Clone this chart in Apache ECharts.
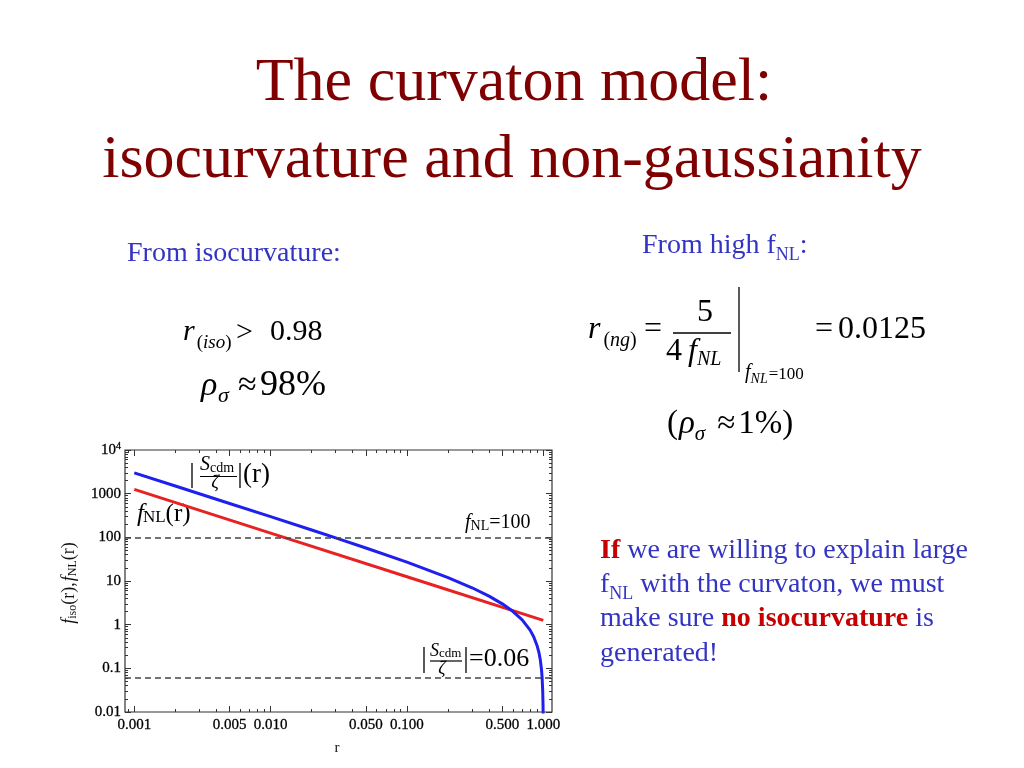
<!DOCTYPE html>
<html><head><meta charset="utf-8">
<script src="https://cdn.jsdelivr.net/npm/echarts@6/dist/echarts.min.js"></script>
<style>html,body{margin:0;padding:0;background:#fff}#c{width:1024px;height:768px}</style>
</head><body><div id="c"></div><script>
// ---------- data ----------
const rIso = [0.001, 0.002, 0.003, 0.005, 0.01, 0.02, 0.03, 0.05, 0.1, 0.2, 0.3, 0.4, 0.5, 0.6, 0.7, 0.8, 0.85, 0.9, 0.93, 0.95, 0.97, 0.98, 0.99, 0.995, 0.997];
const sIso = [2997, 1497, 997, 597, 297, 147, 97, 57, 27, 12, 7, 4.5, 3, 2, 1.29, 0.75, 0.53, 0.33, 0.226, 0.158, 0.093, 0.061, 0.030, 0.015, 0.009];
const rNL = [0.001, 0.01, 0.1, 1.0];
const fNL = [1250, 125, 12.5, 1.25];
const yDashed = [100, 0.06];
const xTickLabels = [0.001, 0.005, 0.01, 0.05, 0.1, 0.5, 1];
const yTickLabels = [0.01, 0.1, 1, 10, 100, 1000, 10000];
const xRange = [0.000855, 1.158];
const yRange = [0.01, 10000];

// ---------- helpers ----------
const SERIF = '"Liberation Serif","Times New Roman",serif';
const BLUE = '#3434C4', RED = '#C40000', TITLE = '#7F0000';
const L = Math.log10;
const mctx = document.createElement('canvas').getContext('2d');
function F(size, it, b) { return (it ? 'italic ' : '') + (b ? 'bold ' : '') + size + 'px ' + SERIF; }
function meas(t, font) { mctx.font = font; return mctx.measureText(t).width; }
function run(x, base, segs) {
  const out = []; let cx = x;
  for (const s of segs) {
    if (s.ax !== undefined) cx = s.ax;
    cx += (s.dx || 0);
    const font = F(s.size, s.it, s.b);
    out.push({ type: 'text', x: cx, y: base + (s.dy || 0) - 0.34 * s.size, silent: true,
      style: { text: s.t, font: font, fill: s.c || '#000', align: 'left', verticalAlign: 'middle' } });
    cx += meas(s.t, font);
  }
  out.w = cx - x;
  return out;
}
function hline(x1, x2, y, w, c) {
  return { type: 'line', silent: true, shape: { x1: x1, y1: y, x2: x2, y2: y }, style: { stroke: c || '#000', lineWidth: w || 1 } };
}
function vline(x, y1, y2, w, c) {
  return { type: 'line', silent: true, shape: { x1: x, y1: y1, x2: x, y2: y2 }, style: { stroke: c || '#000', lineWidth: w || 1 } };
}

// tick positions (log space)
const minorMult = [2, 3, 4, 6, 7, 8, 9];
function minors(lo, hi) {
  const v = [];
  for (let d = -5; d <= 5; d++) for (const m of minorMult) {
    const val = m * Math.pow(10, d);
    if (val >= lo && val <= hi) v.push(L(val));
  }
  return v;
}
const xMaj = xTickLabels.map(L);
const xMin = minors(xRange[0], xRange[1]);
const yMaj = yTickLabels.map(L);
const yMin = minors(yRange[0], yRange[1]).concat([5e-2, 0.5, 5, 50, 500, 5000].map(L));

const tickColor = '#333';
function tAxis(dim, pos, vals, len, label) {
  const ext = dim === 'x' ? xRange : yRange;
  const a = {
    type: 'value', position: pos, min: L(ext[0]), max: L(ext[1]),
    axisLine: { show: false, onZero: false }, splitLine: { show: false },
    axisTick: { show: true, inside: true, length: len, customValues: vals, lineStyle: { color: tickColor, width: 1 } },
    axisLabel: { show: false }
  };
  if (label) a.axisLabel = label;
  return a;
}
const labelFont = { fontFamily: SERIF, fontSize: 15, color: '#000', textBorderColor: '#000', textBorderWidth: 0.3 };

const xAxes = [
  { type: 'log', logBase: 10, min: xRange[0], max: xRange[1], position: 'bottom', show: false },
  tAxis('x', 'bottom', xMaj, 6, Object.assign({ show: true, margin: 6, customValues: xMaj,
    formatter: v => Math.pow(10, v).toFixed(3) }, labelFont)),
  tAxis('x', 'bottom', xMin, 3),
  tAxis('x', 'top', xMaj, 6),
  tAxis('x', 'top', xMin, 3)
];
const yAxes = [
  { type: 'log', logBase: 10, min: yRange[0], max: yRange[1], position: 'left', show: false },
  tAxis('y', 'left', yMaj, 6, Object.assign({ show: true, margin: 4, customValues: yMaj,
    formatter: v => (Math.abs(v - 4) < 1e-9 ? '{b|10}{s|4}' : String(Number(Math.pow(10, v).toPrecision(3)))),
    rich: { b: { fontFamily: SERIF, fontSize: 15, color: '#000' }, s: { fontFamily: SERIF, fontSize: 10, color: '#000', padding: [0, 0, 8, 0] } } }, labelFont)),
  tAxis('y', 'left', yMin, 3),
  tAxis('y', 'right', yMaj, 6),
  tAxis('y', 'right', yMin, 3)
];

// ---------- slide text ----------
const G = [];
G.push({ type: 'text', x: 514, y: 105 - 0.34 * 62, silent: true, style: { text: 'The curvaton model:', font: F(62), fill: TITLE, align: 'center', verticalAlign: 'middle' } });
G.push({ type: 'text', x: 512, y: 182 - 0.34 * 62, silent: true, style: { text: 'isocurvature and non-gaussianity', font: F(62), fill: TITLE, align: 'center', verticalAlign: 'middle' } });

G.push(...run(127, 263, [{ t: 'From isocurvature:', size: 28, c: BLUE }]));
G.push(...run(642, 255, [{ t: 'From high f', size: 28, c: BLUE }, { t: 'NL', size: 18, dy: 6, c: BLUE }, { t: ':', size: 28, c: BLUE }]));

// left formulas
G.push(...run(183, 342, [{ t: 'r', size: 30, it: true }, { t: '(', size: 19, dy: 7, dx: 2 }, { t: 'iso', size: 19, it: true, dy: 7 }, { t: ')', size: 19, dy: 7 },
  { t: '>', size: 30, ax: 236, dy: 1 }, { t: '0.98', size: 30, ax: 270 }]));
G.push(...run(201, 398, [{ t: 'ρ', size: 34, it: true }, { t: 'σ', size: 22, it: true, dy: 6, ax: 218 }, { t: '≈', size: 34, ax: 238 }, { t: '98%', size: 36, ax: 260 }]));

// right formula
const RB = 340;
G.push(...run(588, RB, [{ t: 'r', size: 32, it: true }, { t: '(', size: 20, dy: 8, dx: 3 }, { t: 'ng', size: 20, it: true, dy: 8 }, { t: ')', size: 20, dy: 8 },
  { t: '=', size: 32, ax: 644 }]));
G.push({ type: 'text', x: 705, y: 323 - 0.34 * 32, silent: true, style: { text: '5', font: F(32), fill: '#000', align: 'center', verticalAlign: 'middle' } });
G.push(hline(673, 731, 333, 1.3));
G.push(...run(666, 362, [{ t: '4', size: 32 }, { t: 'f', size: 32, it: true, dx: 6 }, { t: 'NL', size: 20, it: true, dy: 5 }]));
G.push(vline(739, 287, 372, 1.3));
G.push(...run(745, 380, [{ t: 'f', size: 20, it: true }, { t: 'NL', size: 14, it: true, dy: 4 }, { t: '=100', size: 17, dx: 1 }]));
G.push(...run(815, RB, [{ t: '=', size: 32 }, { t: '0.0125', size: 32, dx: 5 }]));
G.push(...run(667, 436, [{ t: '(', size: 33 }, { t: 'ρ', size: 33, it: true, dx: 1 }, { t: 'σ', size: 21, it: true, dy: 6 }, { t: '≈', size: 33, dx: 12 }, { t: '1%)', size: 33, dx: 3 }]));

// paragraph
G.push(...run(600, 560, [{ t: 'If', size: 28, b: true, c: RED }, { t: ' we are willing to explain large', size: 28, c: BLUE }]));
G.push(...run(600, 594, [{ t: 'f', size: 28, c: BLUE }, { t: 'NL', size: 18, dy: 6, c: BLUE }, { t: ' with the curvaton, we must', size: 28, c: BLUE }]));
G.push(...run(600, 628, [{ t: 'make sure ', size: 28, c: BLUE }, { t: 'no isocurvature', size: 28, b: true, c: RED }, { t: ' is', size: 28, c: BLUE }]));
G.push(...run(600, 663, [{ t: 'generated!', size: 28, c: BLUE }]));

// chart annotations
G.push(vline(192, 463, 488, 1.3));
G.push(...run(200, 472, [{ t: 'S', size: 20, it: true }, { t: 'cdm', size: 14, dy: 1 }]));
G.push(hline(200, 237, 476.5, 1.2));
G.push({ type: 'text', x: 215, y: 489 - 0.34 * 19, silent: true, style: { text: 'ζ', font: F(19, true), fill: '#000', align: 'center', verticalAlign: 'middle' } });
G.push(vline(240, 463, 488, 1.3));
G.push(...run(243, 484, [{ t: '(r)', size: 27 }]));

G.push(...run(137, 523, [{ t: 'f', size: 25, it: true }, { t: 'NL', size: 17, dx: -1 }, { t: '(r)', size: 25 }]));
G.push(...run(465, 530, [{ t: 'f', size: 20, it: true }, { t: 'NL', size: 14, dy: 1 }, { t: '=100', size: 20 }]));

G.push(vline(424, 647, 673, 1.3));
G.push(...run(430, 657, [{ t: 'S', size: 18, it: true }, { t: 'cdm', size: 13, dy: 1 }]));
G.push(hline(430, 462, 661, 1.2));
G.push({ type: 'text', x: 442, y: 675 - 0.34 * 18, silent: true, style: { text: 'ζ', font: F(18, true), fill: '#000', align: 'center', verticalAlign: 'middle' } });
G.push(vline(466, 647, 673, 1.3));
G.push(...run(469, 668, [{ t: '=0.06', size: 26 }]));

// axis titles
G.push({ type: 'text', x: 337, y: 753 - 0.34 * 15, silent: true, style: { text: 'r', font: F(15), fill: '#111', align: 'center', verticalAlign: 'middle' } });
const yl = run(0, 6, [{ t: 'f', size: 18, it: true }, { t: 'iso', size: 12, dy: 2 }, { t: '(r),', size: 18 }, { t: 'f', size: 18, it: true, dx: 1 }, { t: 'NL', size: 12, dy: 2 }, { t: '(r)', size: 18 }]);
yl.forEach(e => { e.x -= yl.w / 2; e.style.fill = '#111'; });
G.push({ type: 'group', x: 69, y: 583, rotation: Math.PI / 2, children: yl });

// ---------- chart ----------
const chart = echarts.init(document.getElementById('c'), null, { renderer: 'canvas' });
chart.setOption({
  animation: false,
  backgroundColor: '#fff',
  grid: { left: 125, right: 472, top: 450, bottom: 56, show: true, borderColor: '#333', borderWidth: 1.2, backgroundColor: 'transparent' },
  xAxis: xAxes,
  yAxis: yAxes,
  series: [
    { type: 'line', xAxisIndex: 0, yAxisIndex: 0, data: rNL.map((r, i) => [r, fNL[i]]), showSymbol: false, symbol: 'none',
      lineStyle: { color: '#E82222', width: 3 }, z: 3,
      markLine: { silent: true, symbol: 'none', label: { show: false }, lineStyle: { type: [6, 4], color: '#444', width: 1.5 },
        data: yDashed.map(v => ({ yAxis: v })) } },
    { type: 'line', xAxisIndex: 0, yAxisIndex: 0, data: rIso.map((r, i) => [r, sIso[i]]), showSymbol: false, symbol: 'none',
      lineStyle: { color: '#1F1FEE', width: 3 }, z: 4 }
  ],
  graphic: { elements: G }
});
</script></body></html>
